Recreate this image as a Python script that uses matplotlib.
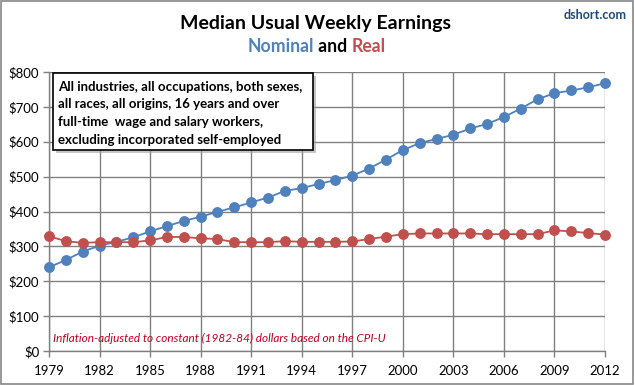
import matplotlib
matplotlib.use("Agg")
import matplotlib.pyplot as plt
from matplotlib.patches import Rectangle

years = list(range(1979, 2013))
nominal = [240, 261, 285, 302, 313, 326, 343, 358, 373, 385, 399, 412, 426, 440,
           459, 467, 479, 490, 503, 523, 549, 576, 596, 608, 620, 638, 651, 671,
           695, 722, 739, 747, 756, 768]
real = [329, 315, 310, 312, 312, 312, 317, 327, 327, 323, 321, 312, 312, 312,
        315, 313, 313, 313, 314, 321, 328, 335, 337, 337, 337, 337, 335, 335,
        335, 335, 346, 343, 338, 334]
xticks = list(range(1979, 2013, 3))
yticks = list(range(0, 801, 100))
ylabels = ["$%d" % v for v in yticks]

W, H = 635, 385
plt.rcParams['font.family'] = ['Lato', 'DejaVu Sans']
fig = plt.figure(figsize=(W / 100, H / 100), dpi=100)

def fx(px):
    return px / W

def fy(py):
    return 1 - py / H

ax = fig.add_axes([fx(49), fy(351), fx(605) - fx(49), fy(72) - fy(351)])
blue = '#4F81BD'
red = '#C0504D'
ax.plot(years, nominal, color=blue, lw=1.3, marker='o', ms=6.8, mec=blue, mfc=blue, zorder=3, clip_on=False)
ax.plot(years, real, color=red, lw=1.3, marker='o', ms=6.8, mec=red, mfc=red, zorder=3, clip_on=False)
ax.set_xlim(1979, 2012)
ax.set_ylim(0, 800)
ax.set_xticks(xticks)
ax.set_yticks(yticks)
ax.set_yticklabels(ylabels)
ax.grid(True, color='#808080', lw=1.0)
ax.set_axisbelow(True)
for s in ['top', 'right']:
    ax.spines[s].set_visible(False)
for s in ['left', 'bottom']:
    ax.spines[s].set_color('#808080')
    ax.spines[s].set_linewidth(1.0)
ax.tick_params(axis='both', colors='#808080', labelcolor='black', labelsize=9.5, length=4, width=1.0, direction='out')
ax.tick_params(axis='x', pad=6)
ax.tick_params(axis='y', pad=3)

# Outer border
fig.patches.append(Rectangle((0.002, 0.003), 0.995, 0.994, transform=fig.transFigure,
                             fill=False, edgecolor='#868686', lw=1.2))

# Titles
fig.text(fx(316), fy(24), 'Median Usual Weekly Earnings', ha='center', va='center',
         fontsize=14, fontweight='bold', color='black')
t1 = fig.text(fx(248), fy(46), 'Nominal', ha='left', va='center', fontsize=12.7,
              fontweight='bold', color=blue)
fig.canvas.draw()
r = fig.canvas.get_renderer()
bb = t1.get_window_extent(r)
t2 = fig.text(bb.x1 / W, fy(46), ' and ', ha='left', va='center', fontsize=12.7,
              fontweight='bold', color='black')
bb2 = t2.get_window_extent(r)
t3 = fig.text(bb2.x1 / W, fy(46), 'Real', ha='left', va='center', fontsize=12.7,
              fontweight='bold', color=red)
fig.text(fx(595), fy(15), 'dshort.com', ha='center', va='center', fontsize=9,
         fontweight='bold', color='#1F4A7D')

# Annotation box with shadow
bx0, bx1, by0, by1 = 53, 313, 73, 150
fig.patches.append(Rectangle((fx(bx0 + 3), fy(by1 + 3)), fx(bx1) - fx(bx0), fy(by0) - fy(by1),
                             transform=fig.transFigure, facecolor='#A0A0A0', edgecolor='none',
                             alpha=0.6, zorder=4))
fig.patches.append(Rectangle((fx(bx0), fy(by1)), fx(bx1) - fx(bx0), fy(by0) - fy(by1),
                             transform=fig.transFigure, facecolor='white', edgecolor='black',
                             lw=1.2, zorder=5))
lines = ['All industries, all occupations, both sexes,',
         'all races, all origins, 16 years and over',
         'full-time  wage and salary workers,',
         'excluding incorporated self-employed']
for i, ln in enumerate(lines):
    fig.text(fx(58), fy(87 + i * 17.5), ln, ha='left', va='center', fontsize=9.5,
             fontweight='bold', color='black', zorder=6)

fig.text(fx(53), fy(338), 'Inflation-adjusted to constant (1982-84) dollars based on the CPI-U',
         ha='left', va='center', fontsize=8.5, style='italic', color='#C00020')

fig.savefig('out.png', dpi=100)
